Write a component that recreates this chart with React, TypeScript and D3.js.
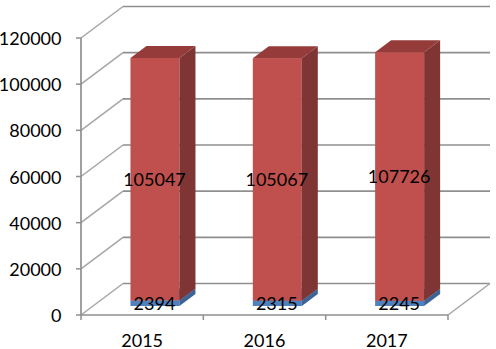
import React from "react";
import * as d3 from "d3";

const categories = ["2015", "2016", "2017"];
const blueValues = [2394, 2315, 2245];
const redValues = [105047, 105067, 107726];
const yTicks = [0, 20000, 40000, 60000, 80000, 100000, 120000];

const W = 496, H = 349;
const wallDx = 42, wallDy = -31.5;
const barShiftX = 12.8, barShiftY = -9;
const barDx = 16, barDy = -12;
const barWidth = 49;
const font = "Lato, Carlito, 'Open Sans', sans-serif";
const grid = "#8f8f8f";
const diag = "#a6a6a6";

const y = d3.scaleLinear().domain([0, 120000]).range([315, 38]);
const x = d3.scaleBand<string>().domain(categories).range([81, 448]);

const records = categories.map((c, i) => ({ c, blue: blueValues[i], red: redValues[i] }));
const stacked = d3.stack<any>().keys(["blue", "red"])(records);
const faces = {
  blue: { front: "#4f81bd", side: "#3c6496", top: "#4573aa" },
  red: { front: "#c0504d", side: "#7f3533", top: "#953c3a" },
};

const poly = d3.line();

export default function App() {
  return (
    <svg width={W} height={H} style={{ position: "absolute", left: 0, top: 0, background: "#fff" }}>
      {/* back wall gridlines and side wall diagonals */}
      {yTicks.map((t) => (
        <g key={t}>
          <line x1={x.range()[0]} y1={y(t)} x2={x.range()[0] + wallDx} y2={y(t) + wallDy} stroke={diag} strokeWidth={1.5} />
          <line x1={x.range()[0] + wallDx} y1={y(t) + wallDy} x2={x.range()[1] + wallDx} y2={y(t) + wallDy} stroke={grid} strokeWidth={1.7} />
          <line x1={76} y1={y(t)} x2={x.range()[0]} y2={y(t)} stroke={grid} strokeWidth={1.5} />
          <text x={61.5} y={y(t) + 7} textAnchor="end" fontFamily={font} fontSize={18} fill="#000">{t}</text>
        </g>
      ))}
      {/* floor right edge */}
      <line x1={x.range()[1]} y1={y(0)} x2={x.range()[1] + wallDx} y2={y(0) + wallDy} stroke={diag} strokeWidth={1.5} />
      {/* axes */}
      <line x1={x.range()[0]} y1={y(120000)} x2={x.range()[0]} y2={y(0)} stroke={grid} strokeWidth={1.7} />
      <line x1={x.range()[0]} y1={y(0)} x2={x.range()[1]} y2={y(0)} stroke={grid} strokeWidth={1.7} />
      {[...categories.map((c) => x(c)!), x.range()[1]].map((px) => (
        <line key={px} x1={px} y1={y(0)} x2={px} y2={320} stroke={grid} strokeWidth={1.5} />
      ))}
      {/* bars */}
      {categories.map((c, i) => {
        const cx = x(c)! + x.bandwidth() / 2 + barShiftX;
        const x0 = cx - barWidth / 2, x1 = cx + barWidth / 2;
        return (
          <g key={c}>
            {stacked.map((s) => {
              const key = s.key as "blue" | "red";
              const yb = y(s[i][0]) + barShiftY, yt = y(s[i][1]) + barShiftY;
              const f = faces[key];
              return (
                <g key={key}>
                  <rect x={x0} y={yt} width={barWidth} height={yb - yt} fill={f.front} />
                  <path d={poly([[x1, yb], [x1 + barDx, yb + barDy], [x1 + barDx, yt + barDy], [x1, yt]])! + "Z"} fill={f.side} />
                  <path d={poly([[x0, yt], [x0 + barDx, yt + barDy], [x1 + barDx, yt + barDy], [x1, yt]])! + "Z"} fill={f.top} />
                </g>
              );
            })}
          </g>
        );
      })}
      {/* data labels */}
      {categories.map((c, i) => {
        const cx = x(c)! + x.bandwidth() / 2 + barShiftX;
        return stacked.map((s) => (
          <text key={c + s.key} x={cx - 0.5} y={(y(s[i][0]) + y(s[i][1])) / 2 + barShiftY + 7} textAnchor="middle" fontFamily={font} fontSize={18} fill="#000">
            {s[i][1] - s[i][0]}
          </text>
        ));
      })}
      {/* category labels */}
      {categories.map((c) => (
        <text key={c} x={x(c)! + x.bandwidth() / 2} y={347} textAnchor="middle" fontFamily={font} fontSize={18} fill="#000">{c}</text>
      ))}
    </svg>
  );
}
